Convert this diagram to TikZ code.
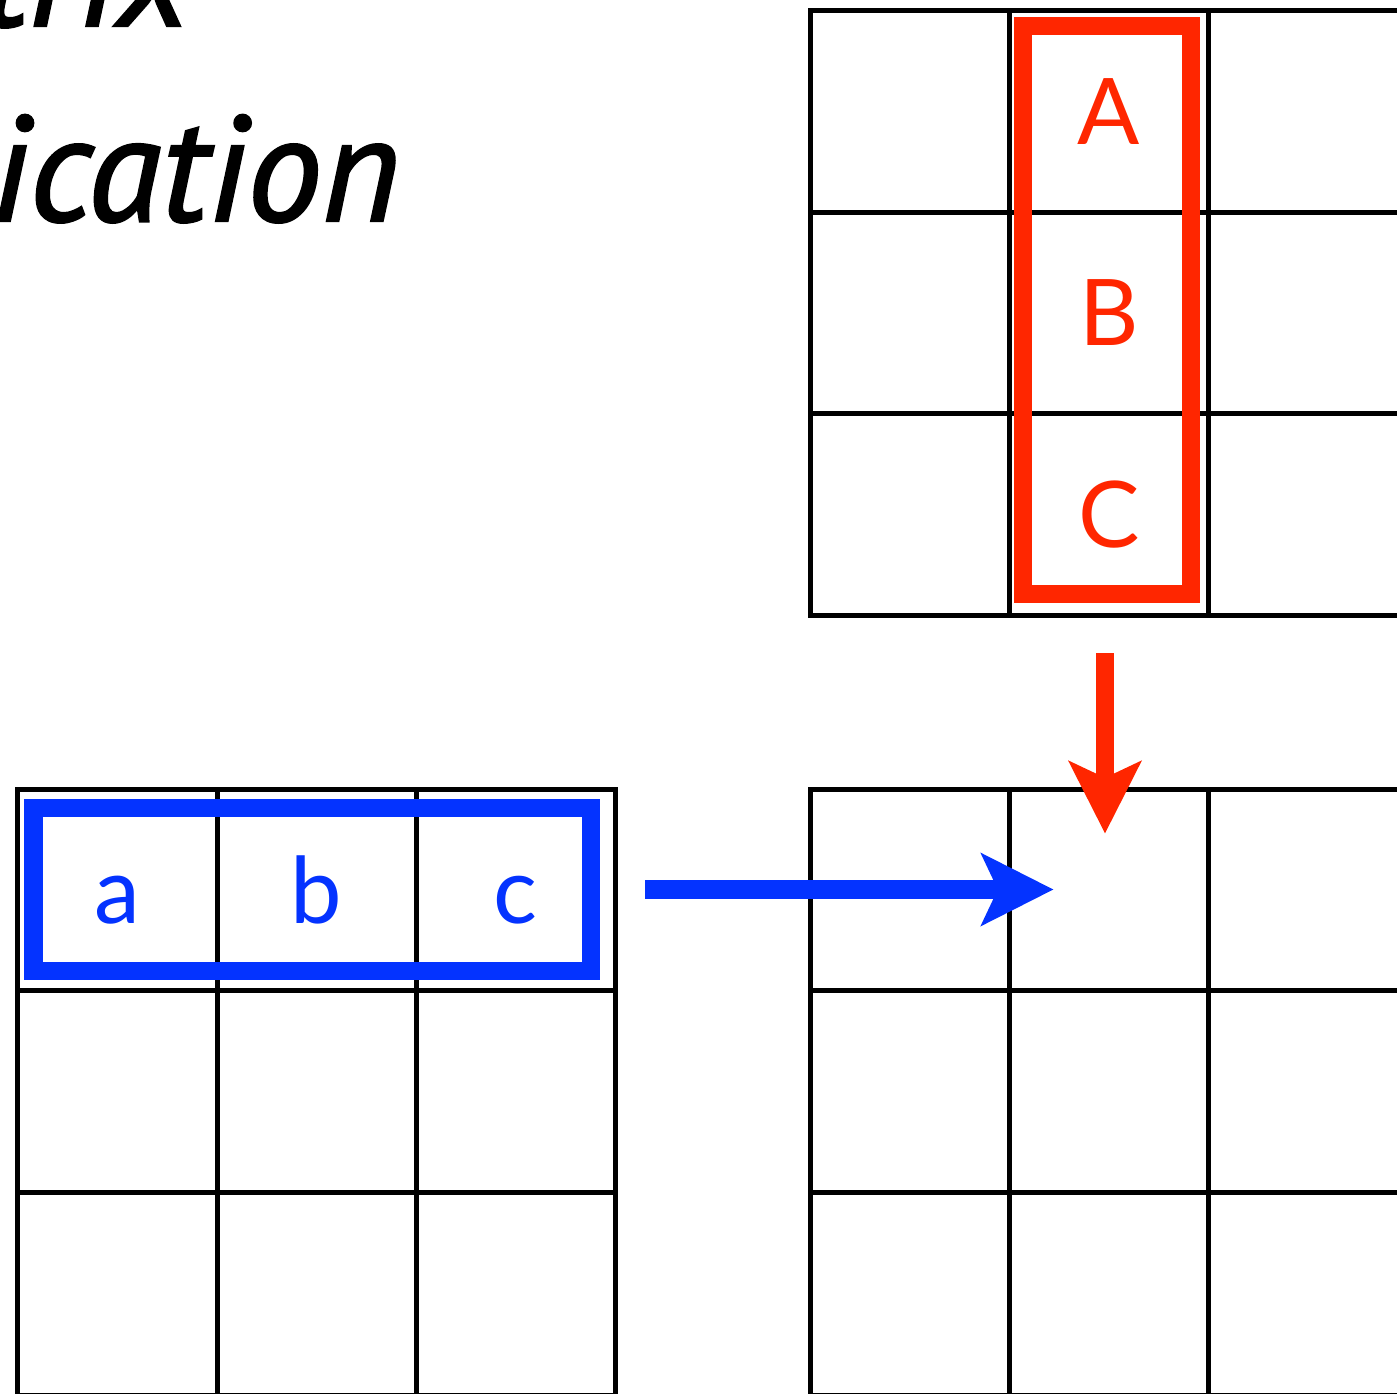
\documentclass[tikz,border=0pt]{standalone}
\usepackage{fontspec}
\usetikzlibrary{arrows.meta}
\newfontfamily\lettfont{Lato}
\newfontfamily\titlefont{PT Sans}[ItalicFeatures={RawFeature={embolden=1.6}}]
\definecolor{kred}{RGB}{255,38,0}
\definecolor{kblue}{RGB}{4,51,255}
\tikzset{
  gridline/.style={line width=5pt, black, line cap=rect},
  letter/.style={inner sep=0pt, anchor=base, font=\lettfont\fontsize{92}{92}\selectfont},
  redletter/.style={letter, text=kred},
  blueletter/.style={letter, text=kblue},
  titletext/.style={inner sep=0pt, anchor=base east, font=\titlefont\itshape\fontsize{150}{150}\selectfont},
  hibox/.style={draw, line width=18.5pt, inner sep=0pt, outer sep=0pt},
  bigarrow/.style={line width=18.5pt, line cap=butt,
    -{Stealth[length=73pt, width=74pt, inset=17.5pt, line width=0pt]}},
}
\begin{document}
\begin{tikzpicture}[x=1pt,y=-1pt]
\useasboundingbox (0,0) rectangle (1397,1394);
\clip (0,0) rectangle (1397,1394);

% title (cropped)
\node[titletext] (t1) at (190,26) {Matrix};
\node[titletext] (t2) at (400,221) {Multiplication};

% top-right grid
\foreach \x in {810,1009.5,1208.5,1408} \draw[gridline] (\x,10.5) -- (\x,615.5);
\foreach \y in {10.5,212,413.5,615.5} \draw[gridline] (810,\y) -- (1410,\y);

% bottom-left grid
\foreach \x in {17.5,217,416,615} \draw[gridline] (\x,789.5) -- (\x,1395);
\foreach \y in {789.5,990.5,1192.5,1395} \draw[gridline] (17.5,\y) -- (615,\y);

% bottom-right grid
\foreach \x in {810,1009.5,1208.5,1408} \draw[gridline] (\x,789.5) -- (\x,1395);
\foreach \y in {789.5,990.5,1192.5,1395} \draw[gridline] (810,\y) -- (1410,\y);

% highlight boxes
\node[hibox, draw=kred, minimum width=168pt, minimum height=568pt] (colbox) at (1107,310) {};
\node[hibox, draw=kblue, minimum width=557.7pt, minimum height=163pt] (rowbox) at (312.2,889.5) {};

% letters
\node[redletter] (A) at (1109,144) {A};
\node[redletter] (B) at (1109,345) {B};
\node[redletter] (C) at (1109,547.5) {C};
\node[blueletter] (a) at (117,923) {a};
\node[blueletter] (b) at (316.5,923) {b};
\node[blueletter] (c) at (515.5,923) {c};

% arrows
\coordinate (rs) at (1105,653);
\coordinate (rt) at (1105,833.3);
\coordinate (bs) at (645,889.5);
\coordinate (bt) at (1053.3,889.5);
\draw[bigarrow, draw=kred, fill=kred] (rs) -- (rt);
\draw[bigarrow, draw=kblue, fill=kblue] (bs) -- (bt);
\end{tikzpicture}
\end{document}
